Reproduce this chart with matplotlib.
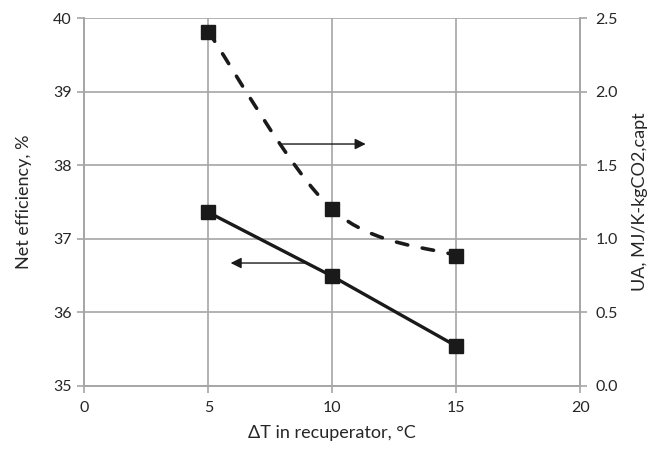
import matplotlib
matplotlib.use("Agg")
import matplotlib.pyplot as plt
from matplotlib.path import Path
from matplotlib.patches import PathPatch
from matplotlib.ticker import FormatStrFormatter

plt.rcParams['font.family'] = ['Lato', 'DejaVu Sans']

dT = [5, 10, 15]
efficiency = [37.36, 36.49, 35.54]
ua = [2.41, 1.20, 0.886]
x_ticks = [0, 5, 10, 15, 20]
eff_ticks = [35, 36, 37, 38, 39, 40]
ua_ticks = [0.0, 0.5, 1.0, 1.5, 2.0, 2.5]

grid_c = '#a6a6a6'
text_c = '#262626'

fig = plt.figure(figsize=(6.54, 4.49), dpi=100)
ax = fig.add_axes([0.129, 0.141, 0.758, 0.818])
ax2 = ax.twinx()

ax.set_xlim(0, 20)
ax.set_ylim(35, 40)
ax2.set_ylim(0, 2.5)
ax.set_xticks(x_ticks)
ax.set_yticks(eff_ticks)
ax2.set_yticks(ua_ticks)
ax2.yaxis.set_major_formatter(FormatStrFormatter('%.1f'))

ax.grid(True, color=grid_c, linewidth=1.2)
ax.set_axisbelow(True)
for a in (ax, ax2):
    for s in a.spines.values():
        s.set_color(grid_c)
        s.set_linewidth(1.2)
    a.spines['top'].set_visible(False)
    a.tick_params(colors=grid_c, labelcolor=text_c, labelsize=11.5, length=5, width=1.2)
ax.tick_params(axis='x', pad=6)
ax.tick_params(axis='y', pad=4)
ax2.tick_params(axis='y', pad=6)

# efficiency (left axis)
ax.plot(dT, efficiency, color='#1a1a1a', linewidth=2.4, marker='s', markersize=9.8,
        zorder=5)

# UA (right axis), smoothed dashed curve through points (Catmull-Rom -> Bezier)
pts = list(zip(dT, ua))
verts = [pts[0]]
codes = [Path.MOVETO]
n = len(pts)
for i in range(n - 1):
    p0 = pts[i - 1] if i > 0 else pts[i]
    p1 = pts[i]
    p2 = pts[i + 1]
    p3 = pts[i + 2] if i + 2 < n else pts[i + 1]
    c1 = (p1[0] + (p2[0] - p0[0]) / 6, p1[1] + (p2[1] - p0[1]) / 6)
    c2 = (p2[0] - (p3[0] - p1[0]) / 6, p2[1] - (p3[1] - p1[1]) / 6)
    verts += [c1, c2, p2]
    codes += [Path.CURVE4] * 3
patch = PathPatch(Path(verts, codes), facecolor='none', edgecolor='#1a1a1a',
                  linewidth=2.6, linestyle=(0, (3.2, 4.1)), capstyle='round', zorder=5)
ax2.add_patch(patch)
ax2.plot(dT, ua, linestyle='none', color='#1a1a1a', marker='s', markersize=9.8, zorder=6)

# arrows
ax.annotate('', xy=(11.35, 38.29), xytext=(7.95, 38.29),
            arrowprops=dict(arrowstyle='-|>', color='#1a1a1a', lw=1.0,
                            mutation_scale=16, shrinkA=0, shrinkB=0))
ax.annotate('', xy=(5.9, 36.67), xytext=(8.95, 36.67),
            arrowprops=dict(arrowstyle='-|>', color='#1a1a1a', lw=1.0,
                            mutation_scale=16, shrinkA=0, shrinkB=0))

ax.set_xlabel('ΔT in recuperator, °C', fontsize=13, color=text_c, labelpad=7)
ax.set_ylabel('Net efficiency, %', fontsize=13, color=text_c, labelpad=15)
ax2.set_ylabel('UA, MJ/K-kgCO2,capt', fontsize=13, color=text_c, labelpad=10)

fig.savefig('out.png', dpi=100)
